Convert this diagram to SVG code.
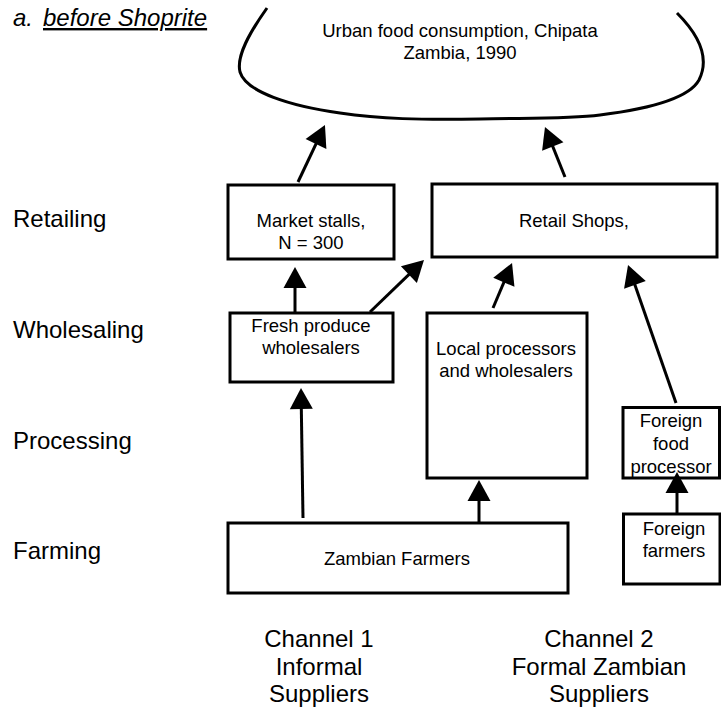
<svg xmlns="http://www.w3.org/2000/svg" width="721" height="709" viewBox="0 0 721 709">
  <style>
    .box { fill: #fff; stroke: #000; stroke-width: 3; }
    .edge { fill: none; stroke: #000; stroke-width: 3; }
    .lbl { font-family: "Liberation Sans", Arial, sans-serif; font-size: 18.5px; fill: #000; text-anchor: middle; }
    .side { font-family: "Liberation Sans", Arial, sans-serif; font-size: 24px; fill: #000; }
    .chan { font-family: "Liberation Sans", Arial, sans-serif; font-size: 24px; fill: #000; text-anchor: middle; }
  </style>
  <defs>
    <marker id="head" markerUnits="userSpaceOnUse" markerWidth="21" markerHeight="23" refX="15" refY="11.5" orient="auto" overflow="visible">
      <path d="M0,0 L21,11.5 L0,23 Z" fill="#000"/>
    </marker>
  </defs>
  <rect width="721" height="709" fill="#fff"/>

  <!-- heading -->
  <text class="side" x="13" y="26" font-style="italic">a.<tspan x="43" text-decoration="underline">before Shoprite</tspan></text>

  <!-- stage labels -->
  <g id="stages">
    <text class="side" x="13" y="227">Retailing</text>
    <text class="side" x="13" y="338">Wholesaling</text>
    <text class="side" x="13" y="449">Processing</text>
    <text class="side" x="13" y="559">Farming</text>
  </g>

  <!-- consumption area (open bowl shape) -->
  <g id="consumption">
    <path class="edge" d="M267,8 C250,32 236,56 240,72 C246,92 290,106 340,113 C380,119 420,120 480,119 C530,118 570,119 600,115 C640,110 688,100 699,80 C709,60 702,38 677,13"/>
    <text class="lbl" x="460" y="37">Urban food consumption, Chipata</text>
    <text class="lbl" x="460" y="59">Zambia, 1990</text>
  </g>

  <g id="market-stalls">
    <rect class="box" x="228" y="185" width="166" height="74"/>
    <text class="lbl" x="311" y="227">Market stalls,</text>
    <text class="lbl" x="311" y="249">N = 300</text>
  </g>

  <g id="retail-shops">
    <rect class="box" x="432" y="184" width="285" height="73"/>
    <text class="lbl" x="574" y="226.5">Retail Shops,</text>
  </g>

  <g id="fresh-produce">
    <rect class="box" x="230" y="313" width="163" height="69"/>
    <text class="lbl" x="311" y="331.5">Fresh produce</text>
    <text class="lbl" x="311" y="353.5">wholesalers</text>
  </g>

  <g id="local-processors">
    <rect class="box" x="427" y="313" width="160" height="165"/>
    <text class="lbl" x="506" y="355">Local processors</text>
    <text class="lbl" x="506" y="377">and wholesalers</text>
  </g>

  <g id="foreign-processor">
    <rect class="box" x="623" y="407.5" width="96.5" height="70.5"/>
    <text class="lbl" x="671" y="427">Foreign</text>
    <text class="lbl" x="671" y="450">food</text>
    <text class="lbl" x="671" y="472.5">processor</text>
  </g>

  <g id="zambian-farmers">
    <rect class="box" x="228" y="523" width="340" height="70"/>
    <text class="lbl" x="397" y="565">Zambian Farmers</text>
  </g>

  <g id="foreign-farmers">
    <rect class="box" x="623.5" y="514" width="96.5" height="70"/>
    <text class="lbl" x="674" y="535">Foreign</text>
    <text class="lbl" x="674" y="557">farmers</text>
  </g>

  <!-- supply links, pointing towards the consumer -->
  <g id="connectors" class="edge" marker-end="url(#head)">
    <line x1="298" y1="182" x2="322.4" y2="130.4"/>
    <line x1="565" y1="177" x2="547.2" y2="132.6"/>
    <line x1="295" y1="312" x2="295" y2="273"/>
    <line x1="370" y1="312" x2="419.7" y2="264.2"/>
    <line x1="493" y1="308" x2="509.7" y2="268.5"/>
    <line x1="676" y1="403" x2="630" y2="270.7"/>
    <line x1="303" y1="518" x2="301.1" y2="394"/>
    <line x1="479" y1="523" x2="479" y2="486"/>
    <line x1="677" y1="514" x2="677" y2="478"/>
  </g>

  <g id="channels">
    <text class="chan" x="319" y="647">Channel 1</text>
    <text class="chan" x="319" y="675">Informal</text>
    <text class="chan" x="319" y="702">Suppliers</text>
    <text class="chan" x="599" y="647">Channel 2</text>
    <text class="chan" x="599" y="675">Formal Zambian</text>
    <text class="chan" x="599" y="702">Suppliers</text>
  </g>
</svg>
